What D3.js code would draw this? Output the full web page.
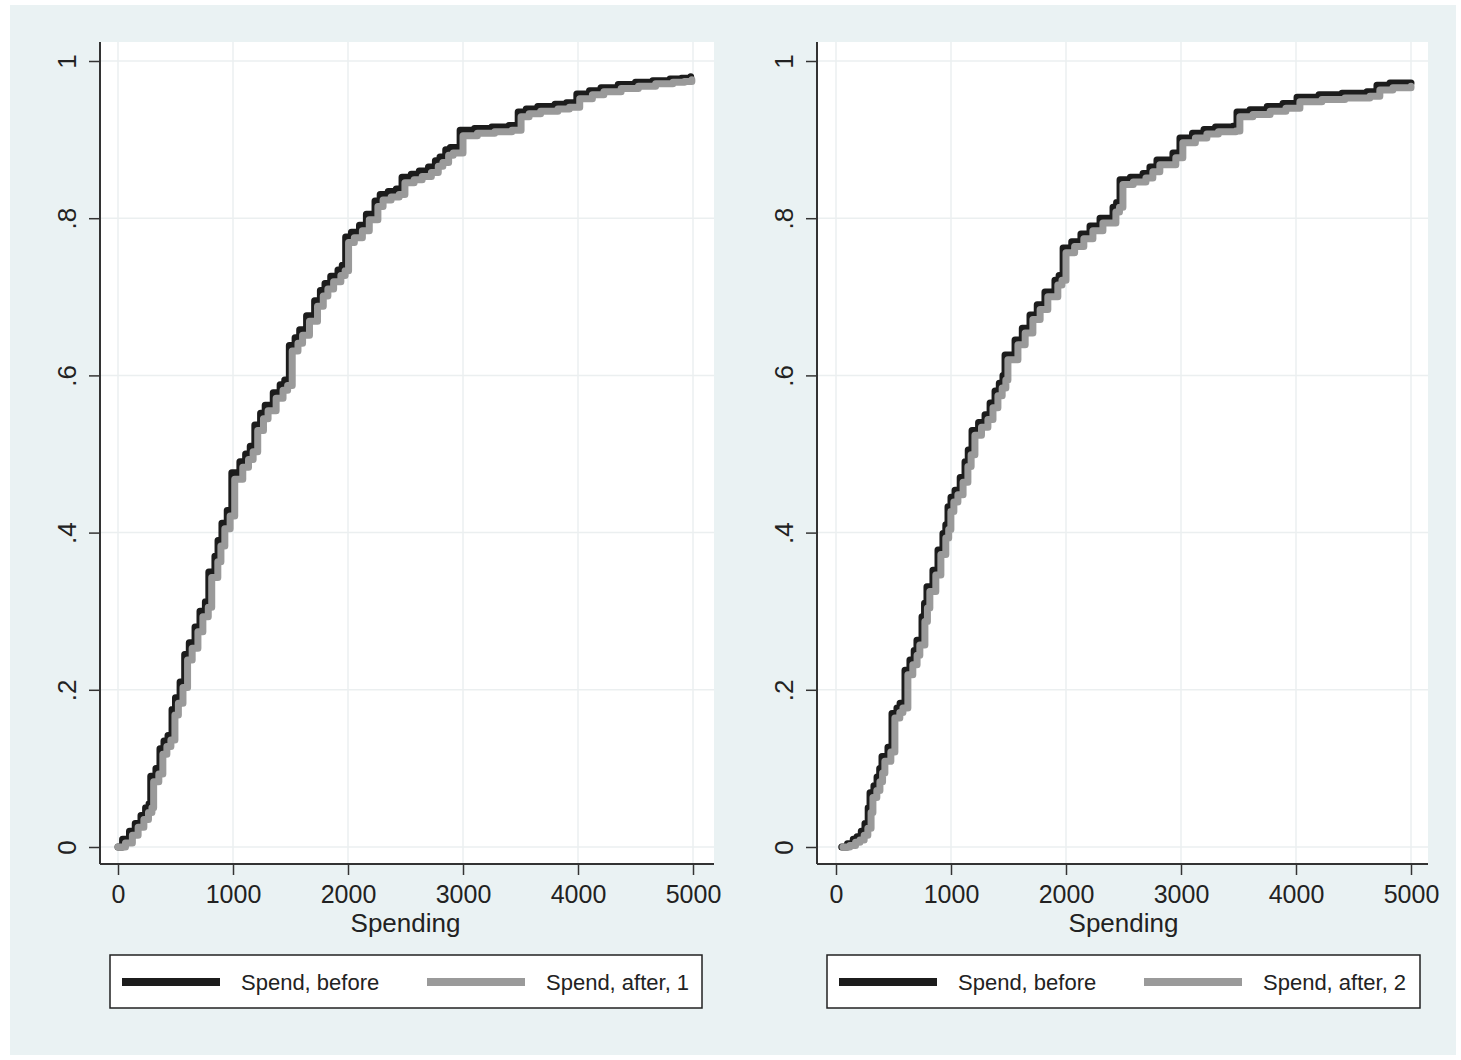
<!DOCTYPE html>
<html>
<head>
<meta charset="utf-8">
<script src="https://cdn.jsdelivr.net/npm/d3@7"></script>
<style>
body { margin: 0; background: #fff; }
text { font-family: "Liberation Sans", Arial, sans-serif; fill: #222; }
</style>
</head>
<body>
<script>
// ticks
var xTicks = [0, 1000, 2000, 3000, 4000, 5000];
var yTicks = [0, 0.2, 0.4, 0.6, 0.8, 1];
var yTickLabels = ["0", ".2", ".4", ".6", ".8", "1"];
var xTitle = "Spending";
var leftLegend = ["Spend, before", "Spend, after, 1"];
var rightLegend = ["Spend, before", "Spend, after, 2"];

// cumulative share, [spending, share]
var leftBefore = [[0,0],[40,.01],[100,.02],[150,.03],[200,.04],[240,.05],[270,.055],[285,.09],[330,.1],[365,.125],[400,.135],[435,.142],[470,.175],[500,.19],[540,.21],[580,.245],[620,.26],[670,.28],[713,.3],[760,.312],[790,.35],[843,.37],[870,.39],[904,.412],[950,.428],[990,.476],[1060,.49],[1110,.5],[1150,.51],[1190,.537],[1240,.552],[1280,.562],[1350,.578],[1410,.588],[1450,.594],[1490,.638],[1540,.648],[1580,.658],[1640,.676],[1710,.695],[1760,.708],[1800,.717],[1850,.726],[1913,.734],[1950,.74],[1980,.776],[2030,.782],[2100,.791],[2160,.805],[2235,.822],[2280,.83],[2350,.834],[2420,.837],[2470,.852],[2550,.856],[2620,.86],[2700,.865],[2760,.873],[2800,.878],[2850,.887],[2890,.89],[2975,.912],[3100,.914],[3250,.916],[3400,.918],[3480,.935],[3550,.939],[3650,.942],[3800,.945],[3900,.947],[3990,.958],[4100,.962],[4200,.966],[4350,.97],[4500,.973],[4650,.975],[4800,.977],[4900,.978],[4980,.98]];
var leftAfter = [[0,0],[65,.005],[125,.015],[175,.025],[225,.035],[265,.044],[295,.05],[310,.083],[355,.093],[390,.118],[425,.128],[460,.136],[495,.168],[525,.183],[565,.203],[605,.238],[645,.253],[695,.274],[738,.293],[785,.305],[815,.343],[868,.363],[895,.383],[929,.405],[975,.421],[1015,.468],[1085,.483],[1135,.493],[1175,.503],[1215,.53],[1265,.545],[1305,.555],[1375,.571],[1435,.581],[1475,.587],[1515,.631],[1565,.641],[1605,.651],[1665,.669],[1735,.688],[1785,.701],[1825,.71],[1875,.719],[1938,.727],[1975,.733],[2005,.769],[2055,.775],[2125,.784],[2185,.798],[2260,.815],[2305,.823],[2375,.827],[2445,.83],[2495,.845],[2575,.849],[2645,.853],[2725,.858],[2785,.866],[2825,.871],[2875,.88],[2915,.883],[3000,.905],[3125,.908],[3275,.91],[3425,.912],[3505,.929],[3575,.933],[3675,.936],[3825,.939],[3925,.941],[4015,.952],[4125,.957],[4225,.961],[4375,.965],[4525,.968],[4675,.971],[4825,.973],[4925,.974],[4990,.976]];
var rightBefore = [[50,0],[100,.004],[150,.01],[183,.013],[220,.02],[252,.03],[280,.05],[296,.069],[330,.078],[357,.089],[380,.1],[400,.115],[452,.127],[487,.17],[530,.177],[557,.183],[600,.225],[643,.238],[680,.25],[704,.263],[748,.293],[770,.31],[791,.331],[843,.352],[887,.378],[930,.399],[955,.41],[974,.433],[1000,.445],[1035,.454],[1080,.47],[1122,.49],[1150,.505],[1183,.53],[1240,.54],[1296,.55],[1340,.565],[1383,.58],[1420,.59],[1452,.6],[1470,.626],[1557,.645],[1620,.66],[1687,.677],[1750,.69],[1817,.706],[1904,.721],[1940,.727],[1975,.762],[2050,.77],[2130,.78],[2209,.79],[2296,.8],[2409,.814],[2440,.82],[2470,.849],[2560,.852],[2670,.857],[2730,.865],[2791,.874],[2930,.883],[2991,.902],[3100,.908],[3200,.913],[3300,.916],[3452,.917],[3487,.935],[3600,.938],[3750,.942],[3887,.946],[4009,.954],[4200,.957],[4400,.959],[4617,.961],[4704,.969],[4817,.972],[5000,.972]];
var rightAfter = [[60,0],[120,.002],[170,.006],[208,.009],[245,.015],[277,.024],[305,.044],[321,.063],[355,.072],[382,.083],[405,.094],[425,.109],[477,.121],[512,.164],[555,.171],[582,.177],[625,.219],[668,.232],[705,.244],[729,.257],[773,.287],[795,.304],[816,.325],[868,.346],[912,.372],[955,.393],[980,.404],[999,.427],[1025,.439],[1060,.448],[1105,.464],[1147,.484],[1175,.499],[1208,.524],[1265,.534],[1321,.544],[1365,.559],[1408,.574],[1445,.584],[1477,.594],[1495,.62],[1582,.639],[1645,.654],[1712,.671],[1775,.684],[1842,.7],[1929,.715],[1965,.721],[2000,.756],[2075,.764],[2155,.774],[2234,.784],[2321,.794],[2434,.808],[2465,.814],[2495,.843],[2585,.846],[2695,.851],[2755,.859],[2816,.868],[2955,.877],[3016,.896],[3125,.902],[3225,.907],[3325,.91],[3477,.911],[3512,.929],[3625,.932],[3775,.936],[3912,.94],[4034,.948],[4225,.951],[4425,.953],[4642,.955],[4729,.963],[4842,.966],[5000,.968]];

var beforeColor = "#1c1c1c";
var afterColor = "#9a9a9a";

var svg = d3.select("body").append("svg").attr("width", 1461).attr("height", 1060);
svg.append("rect").attr("x", 10).attr("y", 5).attr("width", 1446).attr("height", 1050).attr("fill", "#eaf2f3");

var panels = [
    { left: 100, right: 714, x0: 118, x1: 693, before: leftBefore, after: leftAfter, labels: leftLegend, boxLeft: 110, boxRight: 702 },
    { left: 817, right: 1428, x0: 836, x1: 1411, before: rightBefore, after: rightAfter, labels: rightLegend, boxLeft: 827, boxRight: 1420 }
];
var plotTop = 42, plotBottom = 864;
var y = d3.scaleLinear().domain([0, 1]).range([847, 61]);

panels.forEach(function (p) {
    var x = d3.scaleLinear().domain([0, 5000]).range([p.x0, p.x1]);
    var g = svg.append("g");

    g.append("rect").attr("x", p.left).attr("y", plotTop).attr("width", p.right - p.left).attr("height", plotBottom - plotTop).attr("fill", "#fff");

    // grid
    g.selectAll(".vg").data(xTicks).enter().append("line")
        .attr("x1", function (d) { return x(d); }).attr("x2", function (d) { return x(d); })
        .attr("y1", plotTop).attr("y2", plotBottom)
        .attr("stroke", "#ebeff0").attr("stroke-width", 1.5);
    g.selectAll(".hg").data(yTicks).enter().append("line")
        .attr("x1", p.left).attr("x2", p.right)
        .attr("y1", function (d) { return y(d); }).attr("y2", function (d) { return y(d); })
        .attr("stroke", "#ebeff0").attr("stroke-width", 1.5);

    var line = d3.line().x(function (d) { return x(d[0]); }).y(function (d) { return y(d[1]); }).curve(d3.curveStepAfter);
    g.append("path").datum(p.before).attr("d", line).attr("fill", "none")
        .attr("stroke", beforeColor).attr("stroke-width", 7).attr("stroke-linejoin", "round").attr("stroke-linecap", "round");
    g.append("path").datum(p.after).attr("d", line).attr("fill", "none")
        .attr("stroke", afterColor).attr("stroke-width", 7).attr("stroke-linejoin", "round").attr("stroke-linecap", "round");

    // axes
    var xAxis = g.append("g").attr("transform", "translate(0," + plotBottom + ")")
        .call(d3.axisBottom(x).tickValues(xTicks).tickSize(11).tickPadding(6).tickFormat(d3.format("d")));
    xAxis.select(".domain").attr("d", "M" + p.left + ",0H" + p.right).attr("stroke", "#333").attr("stroke-width", 2);
    xAxis.selectAll(".tick line").attr("stroke", "#333").attr("stroke-width", 1.5);
    xAxis.selectAll(".tick text").attr("font-size", 25).attr("dy", null).attr("y", 39).attr("fill", "#222")
        .style("font-family", "'Liberation Sans', Arial, sans-serif");

    var yAxis = g.append("g").attr("transform", "translate(" + p.left + ",0)")
        .call(d3.axisLeft(y).tickValues(yTicks).tickSize(11).tickFormat(function (d, i) { return yTickLabels[i]; }));
    yAxis.select(".domain").attr("d", "M0," + plotTop + "V" + plotBottom).attr("stroke", "#333").attr("stroke-width", 2);
    yAxis.selectAll(".tick line").attr("stroke", "#333").attr("stroke-width", 1.5);
    yAxis.selectAll(".tick text").attr("font-size", 26).attr("x", null).attr("dy", null)
        .attr("text-anchor", "middle").attr("transform", "translate(-24,0) rotate(-90)").attr("fill", "#222")
        .style("font-family", "'Liberation Sans', Arial, sans-serif");

    g.append("text").attr("x", (p.x0 + p.x1) / 2).attr("y", 932).attr("text-anchor", "middle")
        .attr("font-size", 26).text(xTitle);

    // legend
    var lg = g.append("g").attr("transform", "translate(" + p.boxLeft + ",955)");
    lg.append("rect").attr("width", p.boxRight - p.boxLeft).attr("height", 53)
        .attr("fill", "#fff").attr("stroke", "#222").attr("stroke-width", 1.5);
    var items = lg.selectAll(".item").data([beforeColor, afterColor]).enter().append("g")
        .attr("transform", function (d, i) { return "translate(" + (12 + i * 305) + ",0)"; });
    items.append("line").attr("x1", 0).attr("x2", 98).attr("y1", 27).attr("y2", 27)
        .attr("stroke", function (d) { return d; }).attr("stroke-width", 8);
    items.append("text").attr("x", 119).attr("y", 35).attr("font-size", 22)
        .text(function (d, i) { return p.labels[i]; });
});
</script>
</body>
</html>
